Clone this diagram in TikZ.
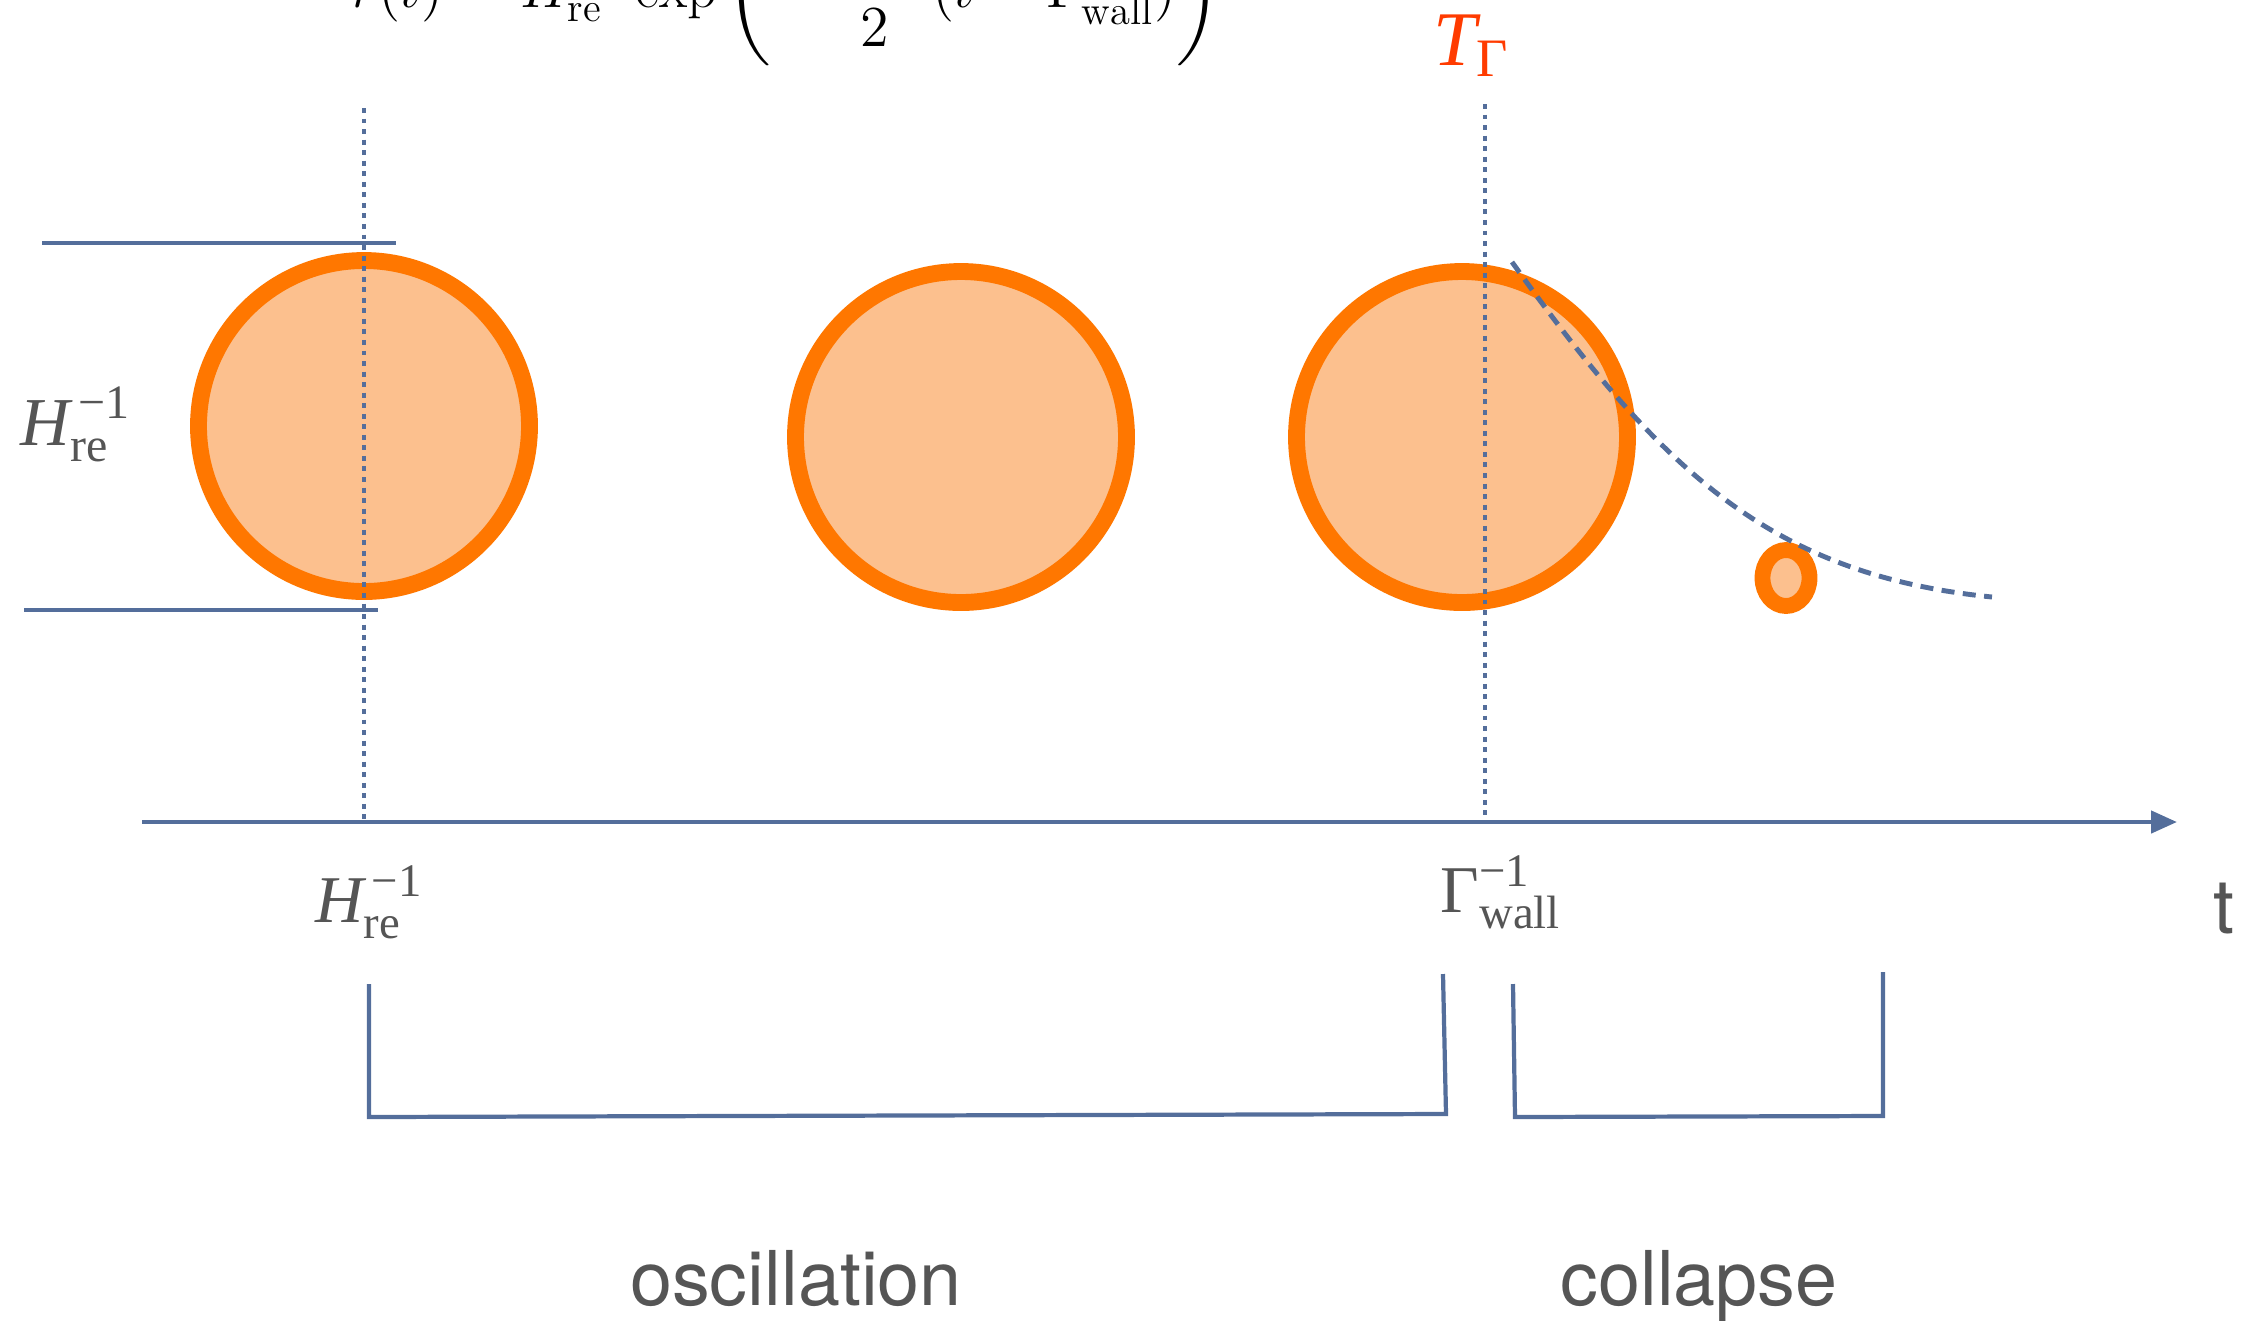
\RequirePackage{fix-cm}
\documentclass[tikz,border=0pt]{standalone}
\usepackage{amsmath}
\usepackage{fontspec}
\newfontfamily\tms{Liberation Serif}
\newfontfamily\hvs{TeX Gyre Heros}
\usetikzlibrary{arrows.meta,shapes.geometric}
\definecolor{orng}{RGB}{255,119,0}
\definecolor{orngfill}{RGB}{252,192,142}
\definecolor{bluel}{RGB}{84,110,155}
\definecolor{graytxt}{RGB}{85,85,85}
\definecolor{redt}{RGB}{255,59,0}
\begin{document}
\begin{tikzpicture}[x=0.1mm,y=-0.1mm,
  bubble/.style={circle,draw=orng,fill=orngfill,line width=4.8pt,minimum size=33.1mm,inner sep=0pt},
  droplet/.style={ellipse,draw=orng,fill=orngfill,line width=4.5pt,minimum width=4.7mm,minimum height=5.6mm,inner sep=0pt},
  bline/.style={draw=bluel,line width=1.4pt},
  dotline/.style={draw=bluel,line width=1.4pt,dash pattern=on 1.4pt off 1.6pt},
  dashline/.style={draw=bluel,line width=1.4pt,dash pattern=on 3.7pt off 2.4pt},
  bracket/.style={draw=bluel,line width=1.2pt},
  mlabel/.style={text=graytxt,font=\tms\fontsize{19.5}{22}\selectfont,inner sep=0pt,anchor=base west},
  slabel/.style={text=graytxt,font=\hvs\fontsize{21.5}{24}\selectfont,inner sep=0pt,anchor=base}]
\useasboundingbox (0,0) rectangle (2249,1320);

% formula (cut off at top, as in the reference)
\node[inner sep=0pt,anchor=base west,font=\fontsize{16.5}{19}\selectfont] (formula) at (351,7)
  {$\displaystyle r(t)\sim H_{\mathrm{re}}^{-1}\exp\left(-\frac{\Gamma_{\mathrm{wall}}}{2}(t-\Gamma_{\mathrm{wall}}^{-1})\right)$};

% bubbles
\node[bubble] (b1) at (364,426) {};
\node[bubble] (b2) at (961,437) {};
\node[bubble] (b3) at (1462,437) {};
\node[droplet] (b4) at (1786,578) {};

% size markers
\coordinate (tl) at (42,243); \coordinate (tr) at (396,243);
\coordinate (bl) at (24,610); \coordinate (br) at (378,610);
\draw[bline] (tl) -- (tr);
\draw[bline] (bl) -- (br);

% axis
\coordinate (ax0) at (142,822); \coordinate (ax1) at (2177,822);
\draw[bline,line width=1.3pt,-{Triangle[length=2.6mm,width=2.2mm]}] (ax0) -- (ax1);

% dotted verticals
\coordinate (v1t) at (364,108); \coordinate (v1b) at (364,822);
\coordinate (v2t) at (1485,104); \coordinate (v2b) at (1485,822);
\draw[dotline] (v1t) -- (v1b);
\draw[dotline] (v2t) -- (v2b);

% dashed decay curve
\coordinate (c0) at (1512,262); \coordinate (c1) at (1992,597);
\draw[dashline] (c0) .. controls (1662,472) and (1772,575) .. (c1);

% brackets
\coordinate (k1a) at (369,984); \coordinate (k1b) at (369,1117);
\coordinate (k1c) at (1446,1114); \coordinate (k1d) at (1443,974);
\draw[bracket] (k1a) -- (k1b) -- (k1c) -- (k1d);
\coordinate (k2a) at (1513,984); \coordinate (k2b) at (1515,1117);
\coordinate (k2c) at (1883,1116); \coordinate (k2d) at (1883,972);
\draw[bracket] (k2a) -- (k2b) -- (k2c) -- (k2d);

% labels
\node[mlabel] (lh) at (20,445) {$\textit{H}^{\,\text{−1}}_{\text{re}}$};
\node[mlabel,font=\tms\fontsize{19}{22}\selectfont] (lh2) at (315,922) {$\textit{H}^{\,\text{−1}}_{\text{re}}$};
\node[mlabel,font=\tms\fontsize{19}{22}\selectfont] (lg) at (1440,912) {$\text{Γ}^{\text{−1}}_{\text{wall}}$};
\node[mlabel,text=redt,font=\tms\fontsize{22}{24}\selectfont] (tg) at (1433,65) {$\textit{T}_{\text{Γ}}$};
\node[slabel,anchor=base west] (tt) at (2213,933) {t};
\node[slabel] (osc) at (796,1305) {oscillation};
\node[slabel] (col) at (1699,1305) {collapse};
\end{tikzpicture}
\end{document}
